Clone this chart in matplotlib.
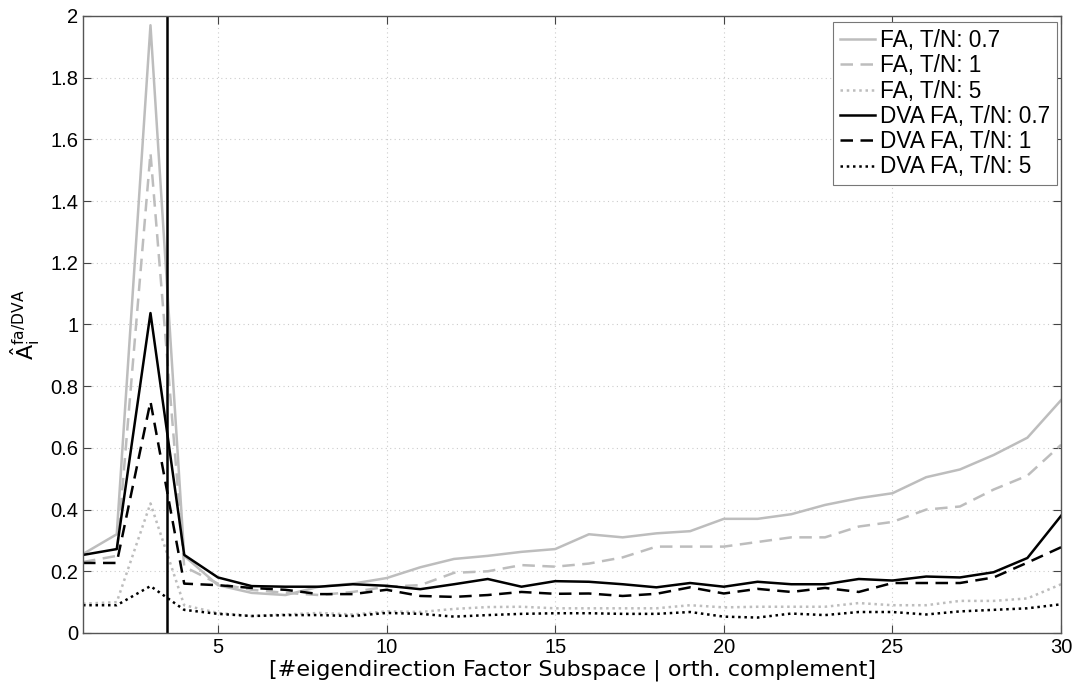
import matplotlib
matplotlib.use('Agg')
import matplotlib.pyplot as plt
import numpy as np

plt.rcParams['font.family'] = ['Liberation Sans', 'DejaVu Sans']
plt.rcParams['mathtext.fontset'] = 'dejavusans'

idx = np.arange(1, 31)

fa_07 = [0.256, 0.32, 1.97, 0.25, 0.155, 0.13, 0.123, 0.15, 0.16, 0.178,
         0.213, 0.24, 0.25, 0.263, 0.272, 0.32, 0.31, 0.323, 0.33, 0.37,
         0.37, 0.385, 0.415, 0.437, 0.453, 0.505, 0.53, 0.577, 0.633, 0.755]
fa_1 = [0.23, 0.25, 1.556, 0.215, 0.16, 0.14, 0.13, 0.123, 0.133, 0.15,
        0.155, 0.195, 0.2, 0.22, 0.215, 0.225, 0.245, 0.28, 0.28, 0.28,
        0.295, 0.31, 0.31, 0.345, 0.36, 0.4, 0.41, 0.465, 0.51, 0.61]
fa_5 = [0.095, 0.1, 0.42, 0.09, 0.065, 0.055, 0.06, 0.065, 0.06, 0.07,
        0.068, 0.078, 0.084, 0.085, 0.08, 0.08, 0.08, 0.08, 0.09, 0.083,
        0.085, 0.085, 0.085, 0.097, 0.09, 0.09, 0.104, 0.104, 0.112, 0.158]
dva_07 = [0.253, 0.272, 1.037, 0.253, 0.18, 0.152, 0.15, 0.15, 0.158, 0.153,
          0.142, 0.158, 0.175, 0.15, 0.168, 0.166, 0.158, 0.148, 0.162, 0.15,
          0.166, 0.158, 0.158, 0.175, 0.17, 0.183, 0.18, 0.197, 0.243, 0.38]
dva_1 = [0.227, 0.227, 0.75, 0.16, 0.155, 0.146, 0.14, 0.126, 0.126, 0.14,
         0.12, 0.117, 0.123, 0.133, 0.127, 0.128, 0.12, 0.127, 0.148, 0.128,
         0.143, 0.133, 0.146, 0.133, 0.162, 0.162, 0.162, 0.18, 0.228, 0.278]
dva_5 = [0.09, 0.09, 0.152, 0.075, 0.062, 0.055, 0.058, 0.058, 0.055, 0.065,
         0.062, 0.053, 0.058, 0.062, 0.064, 0.064, 0.062, 0.062, 0.068, 0.053,
         0.05, 0.063, 0.058, 0.068, 0.068, 0.06, 0.07, 0.075, 0.08, 0.093]

labels = ['FA, T/N: 0.7', 'FA, T/N: 1', 'FA, T/N: 5',
          'DVA FA, T/N: 0.7', 'DVA FA, T/N: 1', 'DVA FA, T/N: 5']
split_at = 3.5

gray = '#bdbdbd'
fig = plt.figure(figsize=(10.74, 6.89), dpi=100)
ax = fig.add_axes([0.0773, 0.0813, 0.9107, 0.8955])

ax.plot(idx, fa_07, color=gray, lw=1.8, ls='-', label=labels[0])
ax.plot(idx, fa_1, color=gray, lw=1.8, ls=(0, (5, 3)), label=labels[1])
ax.plot(idx, fa_5, color=gray, lw=1.8, ls=(0, (1, 1.5)), label=labels[2])
ax.plot(idx, dva_07, color='black', lw=1.8, ls='-', label=labels[3])
ax.plot(idx, dva_1, color='black', lw=1.8, ls=(0, (5, 3)), label=labels[4])
ax.plot(idx, dva_5, color='black', lw=1.8, ls=(0, (1, 1.5)), label=labels[5])
ax.axvline(split_at, color='black', lw=1.8)

ax.set_xlim(1, 30)
ax.set_ylim(0, 2)
ax.set_xticks([5, 10, 15, 20, 25, 30])
yt = np.arange(0, 2.01, 0.2)
ax.set_yticks(yt)
ax.set_yticklabels(['%g' % round(v, 1) for v in yt])
ax.tick_params(direction='in', length=6, labelsize=14.5, top=True, right=True,
               colors='#444444', labelcolor='black')
ax.grid(True, ls=(0, (1, 3)), color='#cccccc', lw=0.8)
for s in ax.spines.values():
    s.set_color('#555555')
    s.set_linewidth(1.0)

ax.set_xlabel('[#eigendirection Factor Subspace | orth. complement]',
              fontsize=16, family='DejaVu Sans', labelpad=2)
ax.set_ylabel(r'$\hat{\mathsf{A}}_{\mathsf{i}}^{\mathsf{fa/DVA}}$', fontsize=16, labelpad=6)

leg = ax.legend(loc='upper right', fontsize=16.3, handlelength=1.55, handletextpad=0.2,
                labelspacing=0.1, borderpad=0.3, borderaxespad=0.2, fancybox=False,
                framealpha=1, edgecolor='#777777', bbox_to_anchor=(1.0, 0.997))
leg.get_frame().set_linewidth(0.8)

fig.savefig('out.png', dpi=100)
